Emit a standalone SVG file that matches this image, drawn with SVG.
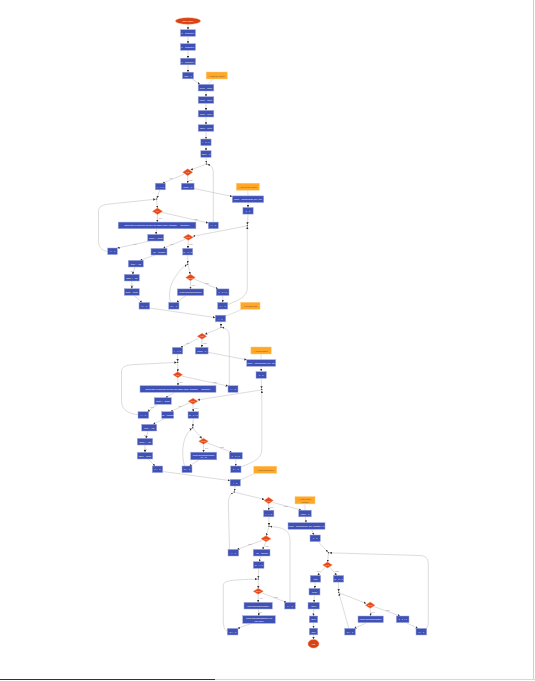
<svg xmlns="http://www.w3.org/2000/svg" width="535" height="681" viewBox="0 0 535 681">
<defs>
<marker id="a" markerUnits="userSpaceOnUse" markerWidth="2.4" markerHeight="2.4" refX="2.4" refY="1.2" orient="auto"><path d="M0,0 L2.4,1.2 L0,2.4 z" fill="#333"/></marker>
<style>
.b{fill:#3f51b5;stroke:#9fa8da;stroke-width:.5}
.d{fill:#e64a19;stroke:#ff8a65;stroke-width:.4}
.s{fill:#d84315;stroke:#ff8a65;stroke-width:.4}
.o{fill:#ffa726;stroke:#ffcc80;stroke-width:.5}
.t{font-family:"Liberation Sans",Arial,sans-serif;font-size:2.1px;fill:#fff;text-anchor:middle;dominant-baseline:central}
.nt{font-family:"Liberation Sans",Arial,sans-serif;font-size:2.1px;fill:#6d4c41;text-anchor:middle;dominant-baseline:central}
.l{font-family:"Liberation Sans",Arial,sans-serif;font-size:1.7px;fill:#888;text-anchor:middle;dominant-baseline:central}
.e{fill:none;stroke:#c4c4c4;stroke-width:.6;marker-end:url(#a)}
.c{fill:none;stroke:#cfcfcf;stroke-width:.6}
.j{fill:#444}
</style>
</defs>
<rect width="535" height="681" fill="#fff"/>
<line x1="533.5" y1="0" x2="533.5" y2="679" stroke="#d0d0d0" stroke-width="1"/>
<line x1="0" y1="679.5" x2="215" y2="679.5" stroke="#333" stroke-width="1"/>
<line x1="215" y1="679.5" x2="535" y2="679.5" stroke="#d8d8d8" stroke-width="1"/>

<g id="connectors">
<path class="e" d="M188,24.3 L188,29.7"/>
<path class="e" d="M188,36.3 L188,43.7"/>
<path class="e" d="M188,50.3 L188,58.2"/>
<path class="e" d="M188,64.8 L188,72.2"/>
<path class="e" d="M192,78.8 L200,84.4"/>
<path class="c" d="M213.3,79 L208,84.4"/>
<path class="e" d="M206,91 L206,96.7"/>
<path class="e" d="M206,103.3 L206,110.4"/>
<path class="e" d="M206,117 L206,124.7"/>
<path class="e" d="M206,131.3 L206,139"/>
<path class="e" d="M206,145.6 L206,150.7"/>
<path class="e" d="M206,157.3 L206.4,163"/>
<path class="e" d="M205.6,164.4 L190.5,170"/>
<path class="e" d="M184,174.3 L162.5,183.2"/><text class="l" x="171" y="178.4">True</text>
<path class="e" d="M187.7,175.8 L187.7,183.2"/><text class="l" x="190.5" y="179.5">False</text>
<path class="e" d="M194,188.5 L232.3,196.5"/>
<path class="c" d="M247.8,190.2 L248,195.9"/>
<path class="e" d="M248,202.5 L248,207.5"/>
<path class="e" d="M248,214.1 L247.4,224.7"/>
<path class="e" d="M246.4,226 L193,236.3"/>
<path class="e" d="M213.3,222.1 L213.3,172 Q213.3,165.5 207.4,164.4"/>
<path class="e" d="M159.8,189.8 L157,198.1"/>
<path class="e" d="M156.6,199.9 L157.4,208"/>
<path class="e" d="M157.5,214.6 L157.3,222.1"/><text class="l" x="160.5" y="218.3">True</text>
<path class="e" d="M161.5,212.3 L208.3,223"/><text class="l" x="196" y="219.2">False</text>
<path class="e" d="M156.5,228.7 L156,234.4"/>
<path class="e" d="M150,241 L117.3,248"/><text class="l" x="135" y="244.3">next</text>
<path class="e" d="M107.7,251.5 C100,250 98.5,246 98.5,240 L98.5,212 C98.5,206 102,205 110,204 L155.6,199.2"/>
<path class="e" d="M185,239.3 L163,248.4"/><text class="l" x="172" y="243.6">True</text>
<path class="e" d="M188.3,240.3 L187.9,248.4"/><text class="l" x="191" y="244.4">False</text>
<path class="e" d="M155,255 L140,260.4"/>
<path class="e" d="M135,267 L132.5,274.4"/><text class="l" x="132" y="270.7">next</text>
<path class="e" d="M131.8,281 L131.8,288.7"/><text class="l" x="132" y="285">next</text>
<path class="e" d="M134,295.3 L142,302.5"/>
<path class="e" d="M149.6,308 L215.3,317.6"/>
<path class="e" d="M187.7,255 L187.7,263.4"/>
<path class="e" d="M188,265.1 L190.2,274.3"/>
<path class="e" d="M190.5,280.7 L190.5,288.9"/><text class="l" x="193.5" y="284.6">True</text>
<path class="e" d="M194.5,279.2 L218,288.9"/><text class="l" x="207" y="283.4">False</text>
<path class="e" d="M186,295.5 L176.5,302.5"/>
<path class="e" d="M170.5,302.5 C168.5,296 169.5,286 174,279 C178,272.5 182,267 186.9,264.8"/>
<path class="e" d="M222.7,295.5 L222.7,302.5"/>
<path class="e" d="M227.7,304.5 C240,300 247.3,296 247.3,288 L247.3,226.7"/>
<path class="c" d="M242.5,309.3 L225.7,316"/>
<path class="e" d="M220.8,321.8 L221,326.4"/>

<path class="e" d="M220.2,328 L205,334.3"/>
<path class="e" d="M229.3,385.7 L229.3,336 Q229.3,328.5 222,327.4"/>
<path class="e" d="M198.3,338.3 L180.5,347.4"/><text class="l" x="188" y="342.7">True</text>
<path class="e" d="M202,339.3 L201.8,347.4"/><text class="l" x="205" y="343.4">False</text>
<path class="e" d="M208,352.3 L246.7,359.8"/>
<path class="c" d="M261,354 L261.2,359.7"/>
<path class="e" d="M261.2,366.3 L261.2,371.3"/>
<path class="e" d="M261.2,378.7 L261.6,388.6"/>
<path class="e" d="M260.8,390 L197.5,400"/>
<path class="e" d="M177.5,354 L177.7,361.4"/>
<path class="e" d="M177.7,363.1 L177.8,371.7"/>
<path class="e" d="M177.8,377.7 L178,385.7"/><text class="l" x="181" y="381.6">True</text>
<path class="e" d="M182,376.2 L228,386"/><text class="l" x="215" y="382.4">False</text>
<path class="e" d="M175,392.3 L165.5,397.7"/>
<path class="e" d="M157.5,404.3 L147.5,411.7"/><text class="l" x="152" y="406.8">next</text>
<path class="e" d="M138,414.8 C125,413 121.5,408 121.5,400 L121.5,372 C121.5,366 127,365 135,364.5 L176.8,362.4"/>
<path class="e" d="M189.6,402.6 L170.5,411.7"/><text class="l" x="180" y="406">True</text>
<path class="e" d="M193,404.2 L193.3,411.7"/><text class="l" x="196.3" y="408">False</text>
<path class="e" d="M165,418.3 L153,424.4"/>
<path class="e" d="M148,431 L146,438.4"/><text class="l" x="145.5" y="434.7">next</text>
<path class="e" d="M145,445 L145,452.4"/><text class="l" x="145.5" y="448.7">next</text>
<path class="e" d="M148,459 L155,466"/>
<path class="e" d="M162.7,471.5 L230,480.6"/>
<path class="e" d="M193.3,418.3 L192.8,426.8"/>
<path class="e" d="M193.2,428.5 L201.8,438.5"/>
<path class="e" d="M203.5,444.3 L203.6,452.2"/><text class="l" x="206.6" y="448.3">True</text>
<path class="e" d="M207.5,443 L232,452.4"/><text class="l" x="222" y="446.8">False</text>
<path class="e" d="M199,459.8 L189.5,466"/>
<path class="e" d="M184.5,466 C181.5,456 182.5,443 186,436 C188,432 190,429.5 191.9,428.4"/>
<path class="e" d="M235.8,459 L235.8,466"/>
<path class="e" d="M241,467 C254,462 261.8,458 261.8,450 L261.8,390.6"/>
<path class="c" d="M255,473.3 L240.4,480"/>
<path class="e" d="M235.1,486 L234.5,491"/>

<path class="e" d="M235.3,492.4 L264.4,499.4"/>
<path class="e" d="M229.5,549.4 L228.4,505 C228.4,497 230,494 233.4,492.5"/>
<path class="e" d="M268.7,503.7 L268.8,510.2"/><text class="l" x="271.8" y="507">True</text>
<path class="e" d="M272.6,502.4 L301.5,510.2"/><text class="l" x="286" y="505.6">False</text>
<path class="c" d="M305,504 L305,510.2"/>
<path class="e" d="M305.4,516.8 L306,522.7"/>
<path class="e" d="M311.5,529.3 L314,535"/>
<path class="e" d="M318,541.6 L327.8,551.9"/>
<path class="e" d="M268.8,516.8 L269,525.4"/>
<path class="e" d="M268.8,527.2 L266.4,535.7"/>
<path class="e" d="M262.3,540.4 L237,549.4"/><text class="l" x="250" y="543.5">True</text>
<path class="e" d="M266,541.7 L262.6,549.4"/><text class="l" x="267" y="545.6">False</text>
<path class="e" d="M290,602.3 L290,541 C290,531 285,527.5 270,526.5"/>
<path class="e" d="M260.8,556 L259.3,561.7"/>
<path class="e" d="M258.6,568.3 L258.3,578.1"/>
<path class="e" d="M258.3,579.9 L258.3,588.3"/>
<path class="e" d="M258.3,594.3 L258.2,602.4"/><text class="l" x="261.3" y="598.3">True</text>
<path class="e" d="M262.4,593.1 L286.5,602.4"/><text class="l" x="276" y="596.8">False</text>
<path class="e" d="M258.4,609 L258.9,615.7"/><text class="l" x="260.5" y="612.3">next</text>
<path class="e" d="M252,623.3 L237.5,628.4"/>
<path class="e" d="M227.3,631.3 C224,629.5 223.3,626 223.3,620 L223.3,586 C223.3,581 226,580 257.4,579.1"/>
<path class="e" d="M328.4,553.6 L327.7,562"/>
<path class="e" d="M426,629 Q428.3,627 428.3,622 L428.3,563 Q428.3,556 420,555.5 L329.5,552.8"/>
<path class="e" d="M325,567.5 L317.5,575.4"/><text class="l" x="318.5" y="570.8">True</text>
<path class="e" d="M330,567.5 L336.7,575.4"/><text class="l" x="337" y="570.8">False</text>
<path class="e" d="M315.3,582.2 L314.7,588.3"/>
<path class="e" d="M314.4,595 L314,602.3"/>
<path class="e" d="M313.7,609 L313.5,615.9"/>
<path class="e" d="M313.5,623.1 L313.5,627.9"/>
<path class="e" d="M313.5,635.1 L313.5,639.3"/>
<path class="e" d="M338.5,582.2 L338.7,591.4"/>
<path class="e" d="M339.6,593 L366.2,603.4"/>
<path class="e" d="M370.2,608.4 L370.6,615.9"/><text class="l" x="373.3" y="612">True</text>
<path class="e" d="M374.3,606.7 L400,615.9"/><text class="l" x="388" y="610">False</text>
<path class="e" d="M366,623.1 L354.2,628.4"/>
<path class="e" d="M407,623.1 L418,628.4"/>
<path class="e" d="M348.8,628.4 L339,593.3"/>
</g>

<g id="start"><ellipse class="s" cx="188" cy="21" rx="12.5" ry="3.3"/><text class="t" x="188" y="21">start: main()</text></g>
<g id="n1"><rect class="b" x="180.5" y="29.7" width="15" height="6.6"/><text class="t" x="188" y="33">a = int(input())</text></g>
<g id="n2"><rect class="b" x="180.5" y="43.7" width="15" height="6.6"/><text class="t" x="188" y="47">b = int(input())</text></g>
<g id="n3"><rect class="b" x="180.5" y="58.2" width="15" height="6.6"/><text class="t" x="188" y="61.5">c = int(input())</text></g>
<g id="n4"><rect class="b" x="182.5" y="72.2" width="11" height="6.6"/><text class="t" x="188" y="75.5">total = 0</text></g>
<g id="note1"><rect class="o" x="206.2" y="72" width="21" height="7"/><text class="nt" x="216.7" y="75.5"># read the values</text></g>
<g id="n5"><rect class="b" x="198.2" y="84.4" width="15.6" height="6.6"/><text class="t" x="206" y="87.7">items = list([])</text></g>
<g id="n6"><rect class="b" x="198.2" y="96.7" width="15.6" height="6.6"/><text class="t" x="206" y="100">result = list([])</text></g>
<g id="n7"><rect class="b" x="198.2" y="110.4" width="15.6" height="6.6"/><text class="t" x="206" y="113.7">count = int(0)</text></g>
<g id="n8"><rect class="b" x="198.2" y="124.7" width="15.6" height="6.6"/><text class="t" x="206" y="128">index = int(0)</text></g>
<g id="n9"><rect class="b" x="200.8" y="139" width="10.3" height="6.6"/><text class="t" x="206" y="142.3">i = a - 1</text></g>
<g id="n10"><rect class="b" x="200.8" y="150.7" width="10.3" height="6.6"/><text class="t" x="206" y="154">done = 0</text></g>
<g id="j1"><circle class="j" cx="206.5" cy="164" r="0.8"/></g>
<g id="d1"><polygon class="d" points="187.7,168.8 192.7,172.3 187.7,175.8 182.7,172.3"/><text class="t" x="187.7" y="172.3">i&lt;b</text></g>
<g id="n11"><rect class="b" x="155.3" y="183.2" width="10" height="6.6"/><text class="t" x="160.3" y="186.5">j = i + 1</text></g>
<g id="n12"><rect class="b" x="181.4" y="183.2" width="12.7" height="6.6"/><text class="t" x="187.7" y="186.5">result = []</text></g>
<g id="note2"><rect class="o" x="236.3" y="183.2" width="23" height="7"/><text class="nt" x="247.8" y="186.7"># collect the results</text></g>
<g id="n13"><rect class="b" x="232.3" y="195.9" width="31.4" height="6.6"/><text class="t" x="248" y="199.2">result = sorted(items, key=len)</text></g>
<g id="n14"><rect class="b" x="242.9" y="207.5" width="10.3" height="6.6"/><text class="t" x="248" y="210.8">k = 0</text></g>
<g id="j2"><circle class="j" cx="156.6" cy="199" r="0.8"/></g>
<g id="d2"><polygon class="d" points="157.5,208 162.5,211.3 157.5,214.6 152.5,211.3"/><text class="t" x="157.5" y="211.3">j&lt;c</text></g>
<g id="n15"><rect class="b" x="118.2" y="222.1" width="77.7" height="6.6"/><text class="t" x="157" y="225.4">print(f"item {i} and item {j} have the same value: {items[i]} == {items[j]}")</text></g>
<g id="n16"><rect class="b" x="208.3" y="222.1" width="10" height="6.6"/><text class="t" x="213.3" y="225.4">i += 1</text></g>
<g id="j3"><circle class="j" cx="247.3" cy="225.7" r="0.8"/></g>
<g id="d3"><polygon class="d" points="188.3,234.3 193.3,237.3 188.3,240.3 183.3,237.3"/><text class="t" x="188.3" y="237.3">k&lt;n</text></g>
<g id="n17"><rect class="b" x="147.7" y="234.4" width="16" height="6.6"/><text class="t" x="155.7" y="237.7">count += items</text></g>
<g id="n18"><rect class="b" x="107.7" y="248" width="9.6" height="6.6"/><text class="t" x="112.5" y="251.3">j += 1</text></g>
<g id="n19"><rect class="b" x="151" y="248.4" width="16" height="6.6"/><text class="t" x="159" y="251.7">val = items[k]</text></g>
<g id="n20"><rect class="b" x="182.7" y="248.4" width="10" height="6.6"/><text class="t" x="187.7" y="251.7">m = k + 1</text></g>
<g id="n21"><rect class="b" x="128.3" y="260.4" width="15" height="6.6"/><text class="t" x="135.8" y="263.7">total += val</text></g>
<g id="j4"><circle class="j" cx="187.7" cy="264.3" r="0.8"/></g>
<g id="n22"><rect class="b" x="124.3" y="274.4" width="15" height="6.6"/><text class="t" x="131.8" y="277.7">index += val</text></g>
<g id="d4"><polygon class="d" points="190.5,274.3 195.3,277.5 190.5,280.7 185.7,277.5"/><text class="t" x="190.5" y="277.5">m&lt;n</text></g>
<g id="n23"><rect class="b" x="124.3" y="288.7" width="15" height="6.6"/><text class="t" x="131.8" y="292">done = count</text></g>
<g id="n24"><rect class="b" x="177.3" y="288.9" width="26.4" height="6.6"/><text class="t" x="190.5" y="292.2">result.append(items[m])</text></g>
<g id="n25"><rect class="b" x="216.3" y="288.9" width="12.7" height="6.6"/><text class="t" x="222.7" y="292.2">k = k + 1</text></g>
<g id="n26"><rect class="b" x="139" y="302.5" width="10.7" height="6.6"/><text class="t" x="144.3" y="305.8">k += 1</text></g>
<g id="n27"><rect class="b" x="168.7" y="302.5" width="10.3" height="6.6"/><text class="t" x="173.8" y="305.8">m += 1</text></g>
<g id="n28"><rect class="b" x="217.7" y="302.5" width="10" height="6.6"/><text class="t" x="222.7" y="305.8">k += 1</text></g>
<g id="note3"><rect class="o" x="240.7" y="302.3" width="19.3" height="7"/><text class="nt" x="250.3" y="305.8"># second pass</text></g>
<g id="n29"><rect class="b" x="215.3" y="315.2" width="10.4" height="6.6"/><text class="t" x="220.5" y="318.5">i = 0</text></g>

<g id="j5"><circle class="j" cx="221" cy="327.3" r="0.8"/></g>
<g id="d5"><polygon class="d" points="202,333.3 206.7,336.3 202,339.3 197.3,336.3"/><text class="t" x="202" y="336.3">i&lt;b</text></g>
<g id="n30"><rect class="b" x="172.3" y="347.4" width="10.4" height="6.6"/><text class="t" x="177.5" y="350.7">j = i + 1</text></g>
<g id="n31"><rect class="b" x="195.4" y="347.4" width="12.7" height="6.6"/><text class="t" x="201.7" y="350.7">result = []</text></g>
<g id="note4"><rect class="o" x="250.9" y="347" width="20.3" height="7"/><text class="nt" x="261" y="350.5"># collect again</text></g>
<g id="n32"><rect class="b" x="246.7" y="359.7" width="29" height="6.6"/><text class="t" x="261.2" y="363">result = sorted(items, key=len)</text></g>
<g id="n33"><rect class="b" x="256" y="371.7" width="10.3" height="6.6"/><text class="t" x="261.2" y="375">k = 0</text></g>
<g id="j6"><circle class="j" cx="177.7" cy="362.3" r="0.8"/></g>
<g id="d6"><polygon class="d" points="177.8,371.7 182.6,374.7 177.8,377.7 173,374.7"/><text class="t" x="177.8" y="374.7">j&lt;c</text></g>
<g id="n34"><rect class="b" x="140" y="385.7" width="76" height="6.6"/><text class="t" x="178" y="389">print(f"item {i} and item {j} have the same value: {items[i]} == {items[j]}")</text></g>
<g id="n35"><rect class="b" x="228" y="385.7" width="10" height="6.6"/><text class="t" x="233" y="389">i += 1</text></g>
<g id="j7"><circle class="j" cx="261.7" cy="389.5" r="0.8"/></g>
<g id="n36"><rect class="b" x="154.3" y="397.7" width="17" height="6.6"/><text class="t" x="162.8" y="401">count += items</text></g>
<g id="d7"><polygon class="d" points="193,398.2 197.8,401.2 193,404.2 188.2,401.2"/><text class="t" x="193" y="401.2">k&lt;n</text></g>
<g id="n37"><rect class="b" x="138" y="411.7" width="10.7" height="6.6"/><text class="t" x="143.3" y="415">j += 1</text></g>
<g id="n38"><rect class="b" x="161.7" y="411.7" width="12" height="6.6"/><text class="t" x="167.7" y="415">val = items[k]</text></g>
<g id="n39"><rect class="b" x="188" y="411.7" width="10.7" height="6.6"/><text class="t" x="193.3" y="415">m = k + 1</text></g>
<g id="n40"><rect class="b" x="141.7" y="424.4" width="15" height="6.6"/><text class="t" x="149.2" y="427.7">total += val</text></g>
<g id="j8"><circle class="j" cx="192.7" cy="427.7" r="0.8"/></g>
<g id="n41"><rect class="b" x="137.3" y="438.4" width="15.4" height="6.6"/><text class="t" x="145" y="441.7">index += val</text></g>
<g id="d8"><polygon class="d" points="203.5,438.3 208.3,441.3 203.5,444.3 198.7,441.3"/><text class="t" x="203.5" y="441.3">m&lt;n</text></g>
<g id="n42"><rect class="b" x="137.3" y="452.4" width="15.4" height="6.6"/><text class="t" x="145" y="455.7">done = count</text></g>
<g id="n43"><rect class="b" x="190.7" y="452.2" width="26" height="7.6"/><text class="t" x="203.7" y="454.8">result.append(items[m])</text><text class="t" x="203.7" y="457.4">m = m</text></g>
<g id="n44"><rect class="b" x="229.3" y="452.4" width="13" height="6.6"/><text class="t" x="235.8" y="455.7">k = k + 1</text></g>
<g id="n45"><rect class="b" x="152.3" y="466" width="10.4" height="6.6"/><text class="t" x="157.5" y="469.3">k += 1</text></g>
<g id="n46"><rect class="b" x="182" y="466" width="10" height="6.6"/><text class="t" x="187" y="469.3">m += 1</text></g>
<g id="n47"><rect class="b" x="230.7" y="466" width="10.3" height="6.6"/><text class="t" x="235.8" y="469.3">k += 1</text></g>
<g id="note5"><rect class="o" x="253.8" y="466.2" width="23" height="7"/><text class="nt" x="265.3" y="469.7"># third pass below</text></g>
<g id="n48"><rect class="b" x="230.1" y="479.4" width="10.3" height="6.6"/><text class="t" x="235.2" y="482.7">i = 0</text></g>

<g id="j9"><circle class="j" cx="234.3" cy="492" r="0.8"/></g>
<g id="d9"><polygon class="d" points="268.7,497.3 273.3,500.5 268.7,503.7 264.1,500.5"/><text class="t" x="268.7" y="500.5">i&lt;b</text></g>
<g id="note6"><rect class="o" x="295" y="496.6" width="20" height="7.3"/><text class="nt" x="305" y="499.2"># final output</text><text class="nt" x="305" y="501.6">section</text></g>
<g id="n49"><rect class="b" x="263.6" y="510.2" width="10.3" height="6.6"/><text class="t" x="268.8" y="513.5">j = i + 1</text></g>
<g id="n50"><rect class="b" x="298.7" y="510.2" width="12.6" height="6.6"/><text class="t" x="305" y="513.5">result = []</text></g>
<g id="j10"><circle class="j" cx="269" cy="526.3" r="0.8"/></g>
<g id="n51"><rect class="b" x="288" y="522.7" width="37" height="6.6"/><text class="t" x="306.5" y="526">result = sorted(items, key=lambda x: x)</text></g>
<g id="d10"><polygon class="d" points="266,535.7 271,538.7 266,541.7 261,538.7"/><text class="t" x="266" y="538.7">j&lt;c</text></g>
<g id="n52"><rect class="b" x="310" y="535" width="10.3" height="6.6"/><text class="t" x="315.2" y="538.3">k = 0</text></g>
<g id="n53"><rect class="b" x="228" y="549.4" width="10.7" height="6.6"/><text class="t" x="233.3" y="552.7">i += 1</text></g>
<g id="n54"><rect class="b" x="253.3" y="549.4" width="16.7" height="6.6"/><text class="t" x="261.7" y="552.7">val = items[j]</text></g>
<g id="j11"><circle class="j" cx="328.5" cy="552.7" r="0.8"/></g>
<g id="n55"><rect class="b" x="253.3" y="561.7" width="10.7" height="6.6"/><text class="t" x="258.7" y="565">m = j + 1</text></g>
<g id="d12"><polygon class="d" points="327.5,562 332.3,565 327.5,568 322.7,565"/><text class="t" x="327.5" y="565">k&lt;n</text></g>
<g id="j12"><circle class="j" cx="258.3" cy="579" r="0.8"/></g>
<g id="n56"><rect class="b" x="310.3" y="575.5" width="10.4" height="6.6"/><text class="t" x="315.5" y="578.8">total</text></g>
<g id="n57"><rect class="b" x="333.3" y="575.5" width="10.4" height="6.6"/><text class="t" x="338.5" y="578.8">m = k + 1</text></g>
<g id="d11"><polygon class="d" points="258.3,588.3 263.3,591.3 258.3,594.3 253.3,591.3"/><text class="t" x="258.3" y="591.3">m&lt;n</text></g>
<g id="n58"><rect class="b" x="309" y="588.4" width="11" height="6.6"/><text class="t" x="314.5" y="591.7">count</text></g>
<g id="j13"><circle class="j" cx="338.7" cy="592.3" r="0.8"/></g>
<g id="n59"><rect class="b" x="244" y="602.4" width="28.3" height="6.6"/><text class="t" x="258.2" y="605.7">result.append(items[m])</text></g>
<g id="n60"><rect class="b" x="284.7" y="602.4" width="10.6" height="6.6"/><text class="t" x="290" y="605.7">j += 1</text></g>
<g id="n61"><rect class="b" x="308" y="602.4" width="11.3" height="6.6"/><text class="t" x="313.7" y="605.7">index</text></g>
<g id="d13"><polygon class="d" points="370.2,602.1 375,605.2 370.2,608.3 365.4,605.2"/><text class="t" x="370.2" y="605.2">m&lt;n</text></g>
<g id="n62"><rect class="b" x="242.7" y="615.7" width="32.6" height="7.6"/><text class="t" x="259" y="618.3">result.append(items[m]) if m</text><text class="t" x="259" y="620.8">else None</text></g>
<g id="n63"><rect class="b" x="309.3" y="616" width="8.4" height="6.6"/><text class="t" x="313.5" y="619.3">done</text></g>
<g id="n64"><rect class="b" x="358" y="616" width="25.3" height="6.6"/><text class="t" x="370.7" y="619.3">result.append(items[m])</text></g>
<g id="n65"><rect class="b" x="396.3" y="616" width="12.7" height="6.6"/><text class="t" x="402.7" y="619.3">k = k + 1</text></g>
<g id="n66"><rect class="b" x="227.3" y="628.4" width="10.7" height="6.6"/><text class="t" x="232.7" y="631.7">m += 1</text></g>
<g id="n67"><rect class="b" x="309.3" y="628.2" width="8.4" height="6.6"/><text class="t" x="313.5" y="631.5">print</text></g>
<g id="n68"><rect class="b" x="344.7" y="628.4" width="10.6" height="6.6"/><text class="t" x="350" y="631.7">m += 1</text></g>
<g id="n69"><rect class="b" x="416" y="628.4" width="10.7" height="6.6"/><text class="t" x="421.3" y="631.7">k += 1</text></g>
<g id="end"><ellipse class="s" cx="313.5" cy="643.8" rx="5.5" ry="4.3"/><text class="t" x="313.5" y="643.8">end</text></g>
</svg>
